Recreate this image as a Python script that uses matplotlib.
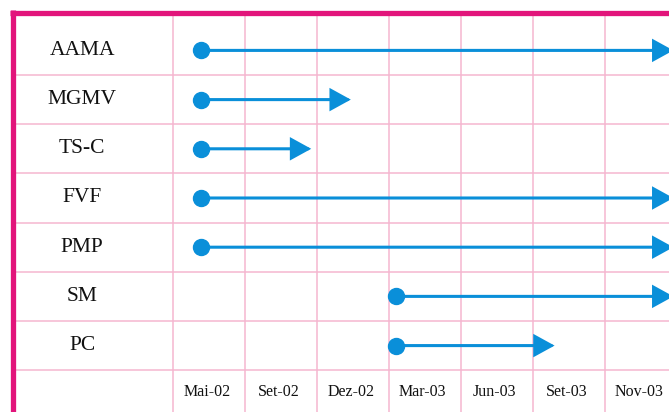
import matplotlib.pyplot as plt
from matplotlib.lines import Line2D

## 데이터: 각 행(프로젝트)의 시작/종료 위치 (열 단위, 열 i = 기간 i)
projects = ['AAMA', 'MGMV', 'TS-C', 'FVF', 'PMP', 'SM', 'PC']
starts = [0.39, 0.39, 0.39, 0.39, 0.39, 3.1, 3.1]
ends = [6.95, 2.47, 1.92, 6.95, 6.95, 6.95, 5.3]
periods = ['Mai-02', 'Set-02', 'Dez-02', 'Mar-03', 'Jun-03', 'Set-03', 'Nov-03']

blue = '#0a8fd9'
magenta = '#e2157b'
pink = '#f5b6d0'

fig = plt.figure(figsize=(6.69, 4.12), dpi=100)
ax = fig.add_axes([15 / 669, 0, 1 - 15 / 669, 398 / 412])
ax.set_xlim(-2.194, 6.889)
ax.set_ylim(6.85, -1.24)
ax.axis('off')

## 격자선
for i in range(len(periods)):
    ax.axvline(i, color=pink, lw=1.1, zorder=1)
for j in range(len(projects)):
    ax.axhline(j, color=pink, lw=1.1, zorder=1)

## 행 레이블과 화살표
for row, (name, s, e) in enumerate(zip(projects, starts, ends)):
    y = row - 0.5
    ax.text(-1.26, y, name, ha='center', va='center', fontsize=15.5,
            family='Liberation Serif', color='#111111')
    ax.annotate('', xy=(e, y), xytext=(s, y), annotation_clip=False,
                arrowprops=dict(arrowstyle='-|>,head_length=0.6,head_width=0.33',
                                color=blue, lw=2.2, shrinkA=0, shrinkB=0,
                                joinstyle='miter', mutation_scale=20), zorder=3)
    ax.plot(s, y, 'o', color=blue, ms=11.5, zorder=4)

## 기간 레이블
for i, p in enumerate(periods):
    ax.text(i + 0.47, 6.44, p, ha='center', va='center', fontsize=11.5,
            family='Liberation Serif', color='#111111')

## 테두리 (위쪽, 왼쪽)
fig.add_artist(Line2D([10 / 669, 1], [1 - 12.5 / 412, 1 - 12.5 / 412],
                      color=magenta, lw=3.8, solid_capstyle='butt',
                      transform=fig.transFigure))
fig.add_artist(Line2D([12.5 / 669, 12.5 / 669], [0, 1 - 10 / 412],
                      color=magenta, lw=3.8, solid_capstyle='butt',
                      transform=fig.transFigure))

plt.savefig('out.png', dpi=100)
